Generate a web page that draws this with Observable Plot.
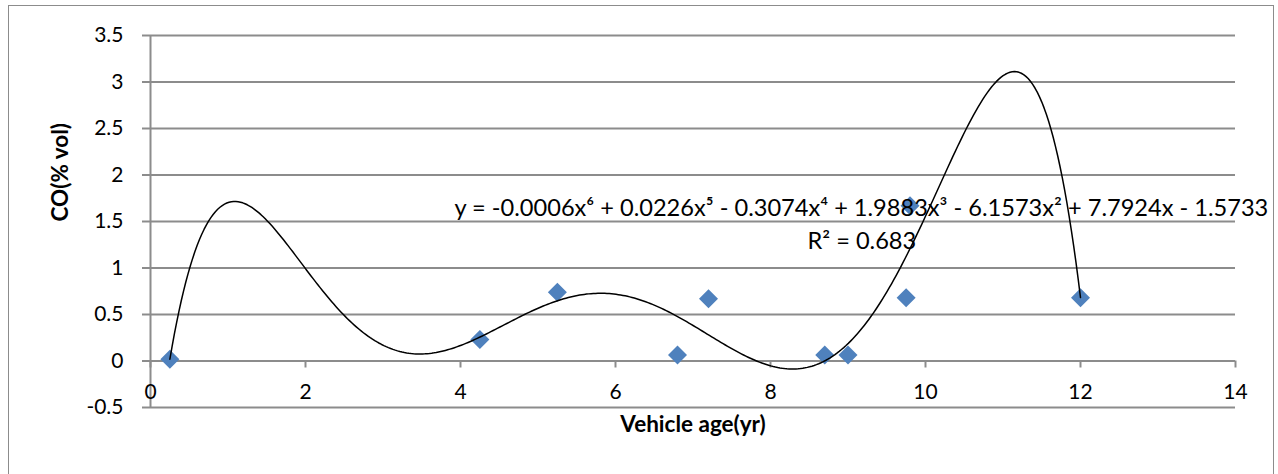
<!DOCTYPE html>
<html>
<head>
<meta charset="utf-8">
<script src="https://cdn.jsdelivr.net/npm/d3@7"></script>
<script src="https://cdn.jsdelivr.net/npm/@observablehq/plot@0.6"></script>
<style>
  html, body { margin: 0; padding: 0; background: #fff; }
  #wrap { position: relative; width: 1278px; height: 474px; overflow: hidden; }
  #border { position: absolute; left: 8px; top: 5px; width: 1266px; height: 480px;
            border: 1.5px solid #8c8c8c; pointer-events: none; box-sizing: border-box; }
</style>
</head>
<body>
<div id="wrap"><div id="border"></div></div>
<script>
// Vehicle age (years) and measured CO emission (% vol)
const ages  = [0.25, 4.25, 5.25, 6.8, 7.2, 8.7, 9.0, 9.75, 9.8, 12];
const coVol = [0.02, 0.23, 0.74, 0.065, 0.67, 0.065, 0.065, 0.68, 1.67, 0.68];

const xTicks = [0, 2, 4, 6, 8, 10, 12, 14];
const yTicks = [-0.5, 0, 0.5, 1, 1.5, 2, 2.5, 3, 3.5];

const equationText = "y = -0.0006x⁶ + 0.0226x⁵ - 0.3074x⁴ + 1.9883x³ - 6.1573x² + 7.7924x - 1.5733";
const r2Text = "R² = 0.683";
const xLabel = "Vehicle age(yr)";
const yLabel = "CO(% vol)";

const points = ages.map((a, i) => ({age: a, co: coVol[i]}));

// Least-squares polynomial trendline (order 6) fitted to the measurements
function polyFit(xs, ys, degree) {
  const c = 6, s = 6; // centre and scale x for numerical stability
  const n = degree + 1;
  const A = Array.from({length: n}, () => new Array(n + 1).fill(0));
  xs.forEach((x, k) => {
    const t = (x - c) / s;
    const p = Array.from({length: n}, (_, j) => t ** j);
    for (let i = 0; i < n; i++) {
      for (let j = 0; j < n; j++) A[i][j] += p[i] * p[j];
      A[i][n] += p[i] * ys[k];
    }
  });
  for (let col = 0; col < n; col++) {
    let piv = col;
    for (let r = col + 1; r < n; r++) if (Math.abs(A[r][col]) > Math.abs(A[piv][col])) piv = r;
    [A[col], A[piv]] = [A[piv], A[col]];
    for (let r = 0; r < n; r++) {
      if (r === col) continue;
      const f = A[r][col] / A[col][col];
      for (let k = col; k <= n; k++) A[r][k] -= f * A[col][k];
    }
  }
  const coef = A.map((row, i) => row[n] / row[i]);
  return x => { const t = (x - c) / s; return coef.reduce((acc, cf, j) => acc + cf * t ** j, 0); };
}

const trend = polyFit(ages, coVol, 6);
const xMin = d3.min(ages), xMax = d3.max(ages);
const trendPoints = d3.range(xMin, xMax + 1e-9, (xMax - xMin) / 400).map(x => ({age: x, co: trend(x)}));

// Square diamond marker
const diamond = {
  draw(ctx, size) {
    const r = Math.sqrt(size / Math.PI);
    ctx.moveTo(0, -r); ctx.lineTo(r, 0); ctx.lineTo(0, r); ctx.lineTo(-r, 0); ctx.closePath();
  }
};

const grid = "#8c8c8c";

const chart = Plot.plot({
  width: 1278,
  height: 474,
  marginLeft: 150,
  marginRight: 43,
  marginTop: 35,
  marginBottom: 67,
  style: {fontFamily: "Lato, 'Open Sans', sans-serif", fontSize: "20px", color: "#000", background: "#fff"},
  x: {domain: [0, 14], axis: null},
  y: {domain: [-0.5, 3.5], axis: null},
  marks: [
    Plot.ruleY(yTicks, {stroke: grid, strokeWidth: 2}),
    Plot.axisY(yTicks, {tickSize: 8, tickPadding: 19, stroke: grid, strokeWidth: 2, fill: "#000", label: null, fontSize: 21, tickFormat: d => String(d)}),
    Plot.ruleX([0], {stroke: grid, strokeWidth: 2}),
    Plot.ruleX(xTicks, {y1: 0, y2: 0, insetBottom: -7, stroke: grid, strokeWidth: 2}),
    Plot.text(xTicks, {x: d => d, y: 0, dy: 31, text: d => String(d), fontSize: 21, fill: "#000"}),
    Plot.text([xLabel], {frameAnchor: "bottom", dy: 24, fontWeight: "bold", fontSize: 22.5, fill: "#000"}),
    Plot.text([yLabel], {frameAnchor: "left", dx: -90, rotate: -90, fontWeight: "bold", fontSize: 22.5, fill: "#000"}),
    Plot.dot(points, {x: "age", y: "co", symbol: diamond, r: 9.5, fill: "#4f81bd", stroke: "none"}),
    Plot.line(trendPoints, {x: "age", y: "co", stroke: "#000", strokeWidth: 1.5}),
    Plot.text([equationText], {frameAnchor: "top-left", dx: 304, dy: 163.5, textAnchor: "start", fontSize: 23.6, fill: "#000"}),
    Plot.text([r2Text], {frameAnchor: "top-left", dx: 657, dy: 196.5, textAnchor: "start", fontSize: 23.6, fill: "#000"})
  ]
});

document.getElementById("wrap").prepend(chart);
</script>
</body>
</html>
